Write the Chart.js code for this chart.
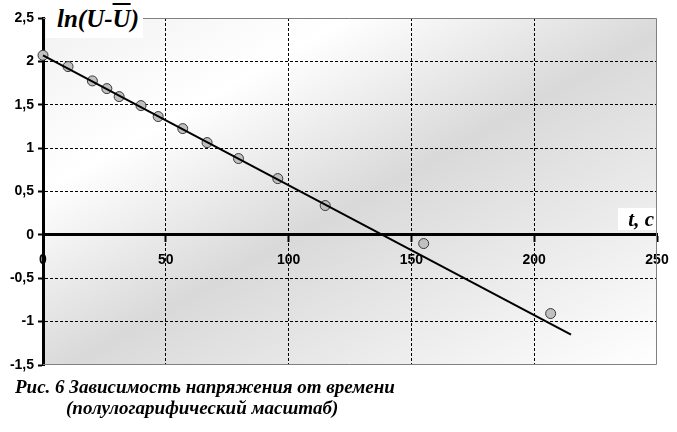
<!DOCTYPE html>
<html>
<head>
<meta charset="utf-8">
<script src="https://cdn.jsdelivr.net/npm/chart.js@4"></script>
<style>
  body { margin: 0; background: #fff; }
  #wrap { position: relative; width: 677px; height: 432px; overflow: hidden; }
  .lbl { position: absolute; font-family: "Liberation Serif", serif; font-weight: bold; font-style: italic; color: #000; white-space: nowrap; }
  #yTitle { left: 46px; top: 0; width: 97px; height: 38px; background: #fff; font-size: 25px; line-height: 38px; text-indent: 11px; }
  #yTitle span { text-decoration: overline; }
  #xTitle { left: 618px; top: 208px; width: 38px; height: 22px; background: #fff; font-size: 21px; line-height: 22px; text-align: right; padding-right: 2px; box-sizing: border-box; }
  #cap1 { left: 15px; top: 376px; font-size: 19px; }
  #cap2 { left: 66px; top: 397px; font-size: 19px; }
</style>
</head>
<body>
<div id="wrap">
  <canvas id="chart" width="677" height="432"></canvas>
  <div class="lbl" id="yTitle">ln(U-<span>U</span>)</div>
  <div class="lbl" id="xTitle">t, c</div>
  <div class="lbl" id="cap1">Рис. 6 Зависимость напряжения от времени</div>
  <div class="lbl" id="cap2">(полулогарифический масштаб)</div>
</div>
<script>
// measured points: time t (s) and ln(U - U_mean)
const tValues = [0, 10.2, 20.1, 26.0, 31.0, 39.9, 46.9, 56.9, 66.8, 79.6, 95.6, 114.9, 155.0, 206.7];
const lnValues = [2.07, 1.94, 1.775, 1.686, 1.594, 1.49, 1.364, 1.225, 1.064, 0.88, 0.649, 0.338, -0.1, -0.907];

// fitted straight line (end points)
const trendT = [0, 215];
const trendLn = [2.07, -1.15];

const xTicks = [0, 50, 100, 150, 200, 250];
const yTicks = [-1.5, -1, -0.5, 0, 0.5, 1, 1.5, 2, 2.5];

const toPoints = (xs, ys) => xs.map((x, i) => ({ x: x, y: ys[i] }));

const plotBackground = {
  id: "plotBackground",
  beforeDraw(chart) {
    const { ctx, chartArea } = chart;
    const { left, top, right, bottom } = chartArea;
    const w = right - left;
    const h = bottom - top;
    const k = (2 * w * h) / (w * w + h * h);
    const g = ctx.createLinearGradient(left, top, left + k * h, top + k * w);
    g.addColorStop(0, "#f1f1f1");
    g.addColorStop(0.25, "#ffffff");
    g.addColorStop(0.52, "#d9d9d9");
    g.addColorStop(1, "#ffffff");
    ctx.save();
    ctx.fillStyle = g;
    ctx.fillRect(left, top, w, h);
    ctx.restore();
  },
  beforeDatasetsDraw(chart) {
    const { ctx, chartArea } = chart;
    const { left, top, right, bottom } = chartArea;
    ctx.save();
    ctx.strokeStyle = "#808080";
    ctx.lineWidth = 1;
    ctx.beginPath();
    ctx.moveTo(left, top + 0.5);
    ctx.lineTo(right - 0.5, top + 0.5);
    ctx.lineTo(right - 0.5, bottom - 0.5);
    ctx.lineTo(left, bottom - 0.5);
    ctx.stroke();
    ctx.restore();
  },
};

const edgeFree = (edges) => (c) =>
  c.tick && edges.includes(c.tick.value) ? "rgba(0,0,0,0)" : "#000";

const ctx = document.getElementById("chart").getContext("2d");
new Chart(ctx, {
  type: "scatter",
  data: {
    datasets: [
      {
        data: toPoints(trendT, trendLn),
        showLine: true,
        borderColor: "#000",
        borderWidth: 2,
        pointRadius: 0,
        clip: false,
      },
      {
        data: toPoints(tValues, lnValues),
        pointRadius: 5,
        pointBackgroundColor: "#c0c0c0",
        pointBorderColor: "#3a3a3a",
        pointBorderWidth: 1,
        clip: false,
      },
    ],
  },
  options: {
    responsive: false,
    animation: false,
    layout: { padding: { left: 0, top: 18, right: 20, bottom: 67 } },
    plugins: { legend: { display: false }, tooltip: { enabled: false } },
    scales: {
      x: {
        type: "linear",
        position: { y: 0 },
        min: 0,
        max: 250,
        afterBuildTicks: (s) => { s.ticks = xTicks.map((v) => ({ value: v })); },
        afterFit: (s) => { s.paddingLeft = 0; s.paddingRight = 0; },
        ticks: {
          color: "#000",
          font: { family: "Liberation Sans", size: 14, weight: "bold" },
          padding: 11,
          maxRotation: 0,
          autoSkip: false,
        },
        grid: {
          color: edgeFree([0, 250]),
          lineWidth: 1,
          tickColor: "#000",
          tickLength: 6,
          tickWidth: 2,
        },
        border: { color: "#000", width: 3, dash: [3, 2] },
      },
      y: {
        type: "linear",
        position: "left",
        min: -1.5,
        max: 2.5,
        afterBuildTicks: (s) => { s.ticks = yTicks.map((v) => ({ value: v })); },
        afterFit: (s) => { s.width = 43; },
        ticks: {
          color: "#000",
          font: { family: "Liberation Sans", size: 14, weight: "bold" },
          padding: 4,
          autoSkip: false,
          callback: (v) => String(v).replace(".", ","),
        },
        grid: {
          color: edgeFree([2.5, 0, -1.5]),
          lineWidth: 1,
          tickColor: "#000",
          tickLength: 5,
          tickWidth: 2,
        },
        border: { color: "#000", width: 3, dash: [3, 2] },
      },
    },
  },
  plugins: [plotBackground],
});
</script>
</body>
</html>
